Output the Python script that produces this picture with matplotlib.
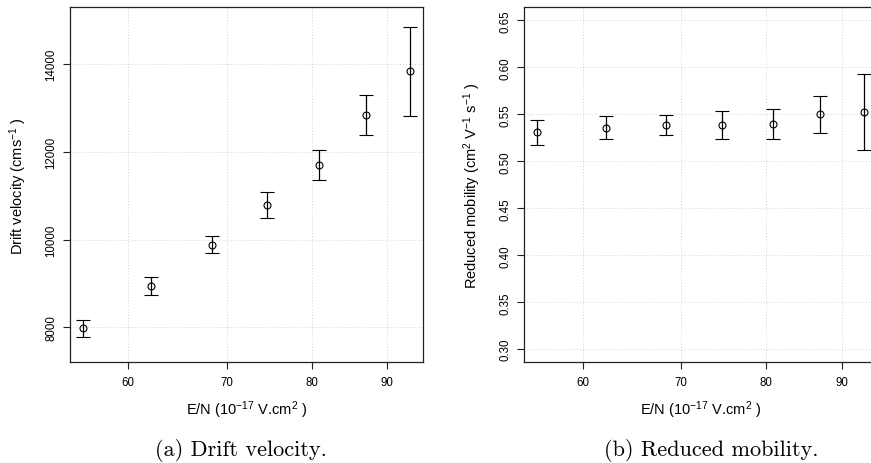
import matplotlib
matplotlib.use("Agg")
import matplotlib.pyplot as plt
from matplotlib.ticker import FixedLocator, NullLocator, FixedFormatter

# Data
en_field = [55.9, 62.2, 68.4, 74.6, 80.9, 87.0, 93.2]
drift_velocity = [7975, 8940, 9885, 10790, 11700, 12850, 13845]
drift_velocity_err = [195, 198, 198, 296, 340, 456, 1015]
mobility = [0.531, 0.536, 0.5385, 0.539, 0.5395, 0.550, 0.553]
mobility_err = [0.0135, 0.012, 0.0107, 0.0148, 0.016, 0.020, 0.0405]

x_ticks = [60, 70, 80, 90]
v_ticks = [8000, 10000, 12000, 14000]
m_ticks = [0.30, 0.35, 0.40, 0.45, 0.50, 0.55, 0.60, 0.65]

plt.rcParams['font.family'] = ['Liberation Sans', 'DejaVu Sans']
plt.rcParams['mathtext.fontset'] = 'custom'
plt.rcParams['mathtext.rm'] = 'Liberation Sans'
plt.rcParams['mathtext.it'] = 'Liberation Sans:italic'
plt.rcParams['mathtext.bf'] = 'Liberation Sans:bold'

W, H = 871, 464
fig = plt.figure(figsize=(W / 100, H / 100), dpi=100)

top_px, bot_px = 8.3, 363.4
ax_w = 353
ax1 = fig.add_axes([70 / W, (H - bot_px) / H, ax_w / W, (bot_px - top_px) / H])
ax2 = fig.add_axes([524.3 / W, (H - bot_px) / H, ax_w / W, (bot_px - top_px) / H])

xlabel = r"E/N (10$^{-17}$ V.cm$^{2}$ )"

def style(ax, yticks, yfmt, ylim, ylabel, labelx):
    ax.set_xscale('log')
    ax.set_xlim(54.76, 95.18)
    ax.xaxis.set_major_locator(FixedLocator(x_ticks))
    ax.xaxis.set_major_formatter(FixedFormatter([str(t) for t in x_ticks]))
    ax.xaxis.set_minor_locator(NullLocator())
    ax.set_ylim(*ylim)
    ax.set_yticks(yticks)
    ax.set_yticklabels([yfmt.format(t) for t in yticks], rotation=90, va='center')
    ax.grid(True, color='#d3d3d3', linestyle=(0, (1, 2)), linewidth=0.7)
    ax.set_axisbelow(True)
    for s in ax.spines.values():
        s.set_linewidth(0.9)
        s.set_color('#222222')
    ax.tick_params(axis='both', direction='out', length=5, width=0.8,
                   labelsize=8.3, color='#222222', pad=5)
    ax.tick_params(axis='y', pad=4)
    ax.set_xlabel(xlabel, fontsize=10.5, labelpad=7)
    ax.set_ylabel(ylabel, fontsize=10.5)
    ax.yaxis.set_label_coords(labelx, 0.5)

ekw = dict(fmt='o', mfc='none', mec='black', ms=5, mew=0.8, color='black',
           ecolor='black', elinewidth=0.9, capsize=4.7, capthick=0.9)

ax1.errorbar(en_field, drift_velocity, yerr=drift_velocity_err, **ekw)
style(ax1, v_ticks, "{:d}", (7200, 15300), r"Drift velocity (cms$^{-1}$ )", -41 / ax_w)

ax2.errorbar(en_field, mobility, yerr=mobility_err, **ekw)
style(ax2, m_ticks, "{:.2f}", (0.286, 0.664),
      r"Reduced mobility (cm$^{2}$ V$^{-1}$ s$^{-1}$ )", -41 / ax_w)

fig.text(241 / W, 1 - 456 / H, "(a) Drift velocity.", fontfamily='cmr10',
         fontsize=16, ha='center', va='baseline')
fig.text(711 / W, 1 - 456 / H, "(b) Reduced mobility.", fontfamily='cmr10',
         fontsize=16, ha='center', va='baseline')

fig.savefig("out.png", dpi=100)
